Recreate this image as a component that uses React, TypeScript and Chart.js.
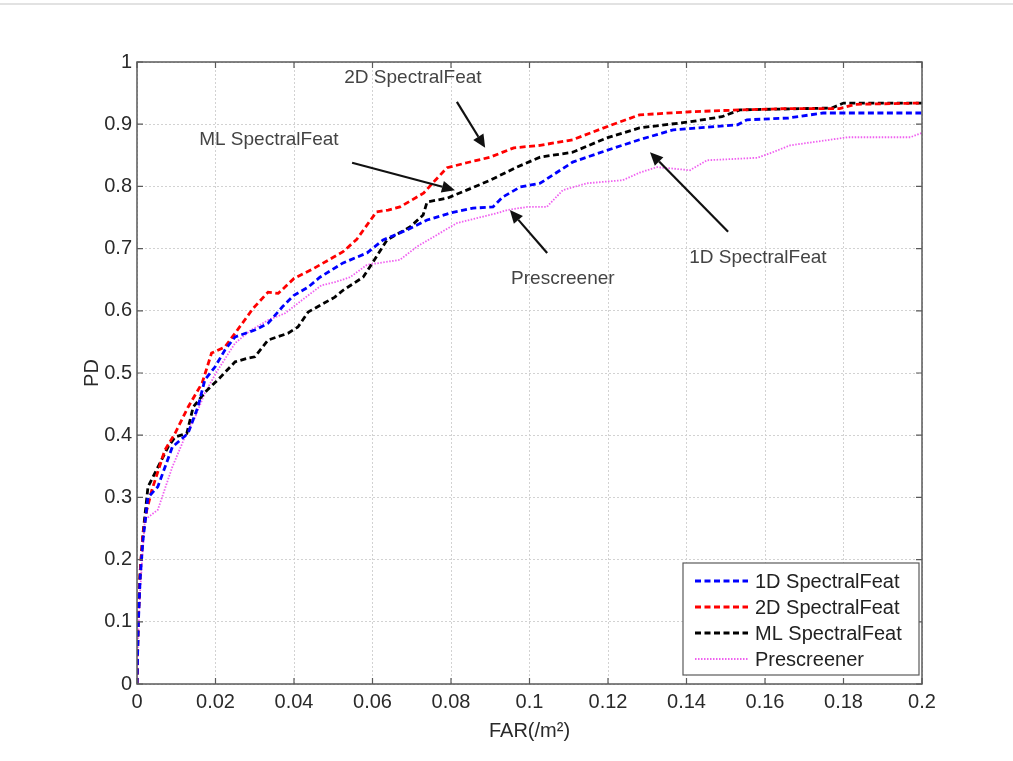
import { useEffect, useRef } from "react";
import { Chart, registerables } from "chart.js";

Chart.register(...registerables);

// ROC curves: false-alarm rate (per m^2) vs. probability of detection
const far1D = [0, 0.0003, 0.0008, 0.0015, 0.0028, 0.0053, 0.009, 0.013, 0.0155, 0.0173, 0.0199, 0.0224, 0.025, 0.03, 0.0334, 0.037, 0.04, 0.0436, 0.0466, 0.0525, 0.0586, 0.0627, 0.0688, 0.0739, 0.0797, 0.0856, 0.0907, 0.0932, 0.0976, 0.1027, 0.111, 0.1197, 0.128, 0.1366, 0.153, 0.1554, 0.166, 0.1748, 0.2];
const pd1D = [0, 0.09, 0.17, 0.23, 0.3, 0.317, 0.381, 0.403, 0.445, 0.489, 0.51, 0.537, 0.558, 0.569, 0.58, 0.606, 0.625, 0.638, 0.654, 0.677, 0.693, 0.714, 0.73, 0.746, 0.757, 0.765, 0.767, 0.783, 0.799, 0.805, 0.839, 0.858, 0.875, 0.891, 0.899, 0.907, 0.91, 0.918, 0.918];

const far2D = [0, 0.0003, 0.0008, 0.0015, 0.0025, 0.0038, 0.0071, 0.0097, 0.013, 0.0166, 0.019, 0.0224, 0.025, 0.0296, 0.0334, 0.036, 0.04, 0.045, 0.05, 0.0525, 0.056, 0.061, 0.064, 0.067, 0.073, 0.076, 0.079, 0.084, 0.09, 0.096, 0.1027, 0.111, 0.1197, 0.128, 0.141, 0.1536, 0.165, 0.179, 0.183, 0.2];
const pd2D = [0, 0.1, 0.18, 0.24, 0.28, 0.312, 0.376, 0.403, 0.445, 0.484, 0.532, 0.542, 0.564, 0.604, 0.63, 0.628, 0.652, 0.668, 0.686, 0.695, 0.715, 0.759, 0.762, 0.767, 0.789, 0.81, 0.83, 0.838, 0.847, 0.862, 0.866, 0.875, 0.896, 0.915, 0.92, 0.923, 0.925, 0.925, 0.932, 0.934];

const farML = [0, 0.0003, 0.0008, 0.0015, 0.0028, 0.0079, 0.0097, 0.0127, 0.0143, 0.0173, 0.0206, 0.025, 0.0283, 0.03, 0.0334, 0.0385, 0.041, 0.0436, 0.0504, 0.0525, 0.0576, 0.06, 0.0637, 0.0696, 0.0729, 0.0739, 0.079, 0.084, 0.09, 0.0968, 0.1027, 0.111, 0.1197, 0.128, 0.141, 0.149, 0.1536, 0.177, 0.18, 0.2];
const pdML = [0, 0.1, 0.18, 0.24, 0.317, 0.381, 0.397, 0.403, 0.445, 0.469, 0.489, 0.518, 0.524, 0.526, 0.553, 0.564, 0.574, 0.598, 0.622, 0.633, 0.654, 0.677, 0.714, 0.735, 0.754, 0.775, 0.781, 0.794, 0.81, 0.831, 0.847, 0.855, 0.878, 0.894, 0.904, 0.912, 0.923, 0.926, 0.934, 0.934];

const farPre = [0, 0.0003, 0.0008, 0.002, 0.0053, 0.009, 0.0122, 0.0148, 0.0173, 0.0206, 0.025, 0.029, 0.0334, 0.0377, 0.042, 0.047, 0.0504, 0.0543, 0.0586, 0.0619, 0.067, 0.0713, 0.0772, 0.0815, 0.0866, 0.0917, 0.0943, 0.0994, 0.1044, 0.1085, 0.1146, 0.1238, 0.128, 0.1325, 0.1409, 0.1452, 0.158, 0.162, 0.1664, 0.1766, 0.181, 0.197, 0.2];
const pdPre = [0, 0.08, 0.15, 0.264, 0.28, 0.349, 0.397, 0.429, 0.468, 0.505, 0.548, 0.569, 0.585, 0.596, 0.617, 0.641, 0.646, 0.654, 0.674, 0.677, 0.682, 0.703, 0.725, 0.741, 0.749, 0.757, 0.762, 0.767, 0.767, 0.794, 0.805, 0.81, 0.822, 0.831, 0.826, 0.842, 0.846, 0.855, 0.866, 0.875, 0.879, 0.879, 0.886];

const seriesNames = ["1D SpectralFeat", "2D SpectralFeat", "ML SpectralFeat", "Prescreener"];
const seriesColors = ["#0000ff", "#ff0000", "#000000", "#f060f0"];

// Callout labels: text, text anchor, arrow tail, arrow head (data units)
const calloutText = ["2D SpectralFeat", "ML SpectralFeat", "Prescreener", "1D SpectralFeat"];
const calloutTextAt = [[0.0703, 0.974], [0.0336, 0.875], [0.1085, 0.651], [0.1582, 0.685]];
const calloutTail = [[0.0815, 0.936], [0.0548, 0.838], [0.1045, 0.693], [0.1506, 0.727]];
const calloutHead = [[0.0887, 0.862], [0.081, 0.794], [0.095, 0.762], [0.1307, 0.855]];

const xTicks = [0, 0.02, 0.04, 0.06, 0.08, 0.1, 0.12, 0.14, 0.16, 0.18, 0.2];
const yTicks = [0, 0.1, 0.2, 0.3, 0.4, 0.5, 0.6, 0.7, 0.8, 0.9, 1];

const FONT = "'Liberation Sans', Arial, sans-serif";
const FRAME = "#5a5a5a";
const GRID = "#d2d2d2";

const zip = (xs: number[], ys: number[]) => xs.map((x, i) => ({ x, y: ys[i] }));

const frameAndExtras = {
  id: "frameAndExtras",
  afterDatasetsDraw(chart: any) {
    const { ctx, chartArea: a, scales } = chart;
    const xs = scales.x;
    const ys = scales.y;
    ctx.save();
    // axes box
    ctx.strokeStyle = FRAME;
    ctx.lineWidth = 1.5;
    ctx.setLineDash([]);
    ctx.strokeRect(a.left, a.top, a.right - a.left, a.bottom - a.top);
    // inward tick marks on all four sides
    ctx.lineWidth = 1.2;
    const tl = 6;
    ctx.beginPath();
    xTicks.forEach((v) => {
      const px = xs.getPixelForValue(v);
      ctx.moveTo(px, a.bottom);
      ctx.lineTo(px, a.bottom - tl);
      ctx.moveTo(px, a.top);
      ctx.lineTo(px, a.top + tl);
    });
    yTicks.forEach((v) => {
      const py = ys.getPixelForValue(v);
      ctx.moveTo(a.left, py);
      ctx.lineTo(a.left + tl, py);
      ctx.moveTo(a.right, py);
      ctx.lineTo(a.right - tl, py);
    });
    ctx.stroke();

    // legend box in the lower-right corner
    const lx = a.right - 239;
    const ly = a.bottom - 121;
    const lw = 236;
    const lh = 112;
    ctx.fillStyle = "#ffffff";
    ctx.fillRect(lx, ly, lw, lh);
    ctx.strokeStyle = FRAME;
    ctx.lineWidth = 1.2;
    ctx.strokeRect(lx, ly, lw, lh);
    ctx.font = `20px ${FONT}`;
    ctx.textBaseline = "middle";
    ctx.textAlign = "left";
    seriesNames.forEach((name, i) => {
      const ry = ly + 18 + i * 26;
      ctx.strokeStyle = seriesColors[i];
      if (i === 3) {
        ctx.lineWidth = 1.8;
        ctx.setLineDash([1.5, 1.5]);
      } else {
        ctx.lineWidth = 2.8;
        ctx.setLineDash([6, 3.5]);
      }
      ctx.beginPath();
      ctx.moveTo(lx + 12, ry);
      ctx.lineTo(lx + 65, ry);
      ctx.stroke();
      ctx.setLineDash([]);
      ctx.fillStyle = "#222222";
      ctx.fillText(name, lx + 72, ry + 1);
    });

    // callouts with arrows
    ctx.font = `19px ${FONT}`;
    ctx.textAlign = "center";
    calloutText.forEach((t, i) => {
      ctx.fillStyle = "#444444";
      const tx = xs.getPixelForValue(calloutTextAt[i][0]);
      const ty = ys.getPixelForValue(calloutTextAt[i][1]);
      ctx.fillText(t, tx, ty);
      const x0 = xs.getPixelForValue(calloutTail[i][0]);
      const y0 = ys.getPixelForValue(calloutTail[i][1]);
      const x1 = xs.getPixelForValue(calloutHead[i][0]);
      const y1 = ys.getPixelForValue(calloutHead[i][1]);
      const ang = Math.atan2(y1 - y0, x1 - x0);
      const hl = 13;
      const hw = 6;
      const bx = x1 - hl * Math.cos(ang);
      const by = y1 - hl * Math.sin(ang);
      ctx.strokeStyle = "#111111";
      ctx.lineWidth = 2.2;
      ctx.beginPath();
      ctx.moveTo(x0, y0);
      ctx.lineTo(bx, by);
      ctx.stroke();
      ctx.fillStyle = "#111111";
      ctx.beginPath();
      ctx.moveTo(x1, y1);
      ctx.lineTo(bx + hw * Math.sin(ang), by - hw * Math.cos(ang));
      ctx.lineTo(bx - hw * Math.sin(ang), by + hw * Math.cos(ang));
      ctx.closePath();
      ctx.fill();
    });
    ctx.restore();
  },
};

const tickLabel = (v: number | string) => String(Number(Number(v).toFixed(2)));

export default function App() {
  const canvasRef = useRef<HTMLCanvasElement | null>(null);

  useEffect(() => {
    const canvas = canvasRef.current;
    if (!canvas) return;
    const farLists = [far1D, far2D, farML, farPre];
    const pdLists = [pd1D, pd2D, pdML, pdPre];
    const chart = new Chart(canvas, {
      type: "line",
      data: {
        datasets: seriesNames.map((name, i) => ({
          label: name,
          data: zip(farLists[i], pdLists[i]),
          borderColor: seriesColors[i],
          backgroundColor: seriesColors[i],
          borderWidth: i === 3 ? 1.8 : 2.8,
          borderDash: i === 3 ? [1.5, 1.5] : [6, 3.5],
          pointRadius: 0,
          tension: 0,
          fill: false,
        })),
      },
      options: {
        animation: false,
        responsive: false,
        devicePixelRatio: 1,
        layout: { padding: { left: 0, top: 62, right: 91, bottom: 0 } },
        plugins: {
          legend: { display: false },
          tooltip: { enabled: false },
        },
        scales: {
          x: {
            type: "linear",
            min: 0,
            max: 0.2,
            afterFit: (s: any) => {
              s.height = 77;
            },
            afterBuildTicks: (s: any) => {
              s.ticks = xTicks.map((v) => ({ value: v }));
            },
            ticks: {
              callback: tickLabel,
              color: "#2a2a2a",
              font: { family: FONT, size: 20 },
              padding: 6,
              maxRotation: 0,
              autoSkip: false,
            },
            grid: { color: GRID, lineWidth: 1, drawTicks: false },
            border: { display: false, dash: [2, 2] },
            title: {
              display: true,
              text: "FAR(/m²)",
              color: "#2a2a2a",
              font: { family: FONT, size: 20 },
              padding: { top: 0, bottom: 18 },
            },
          },
          y: {
            type: "linear",
            min: 0,
            max: 1,
            afterFit: (s: any) => {
              s.width = 137;
            },
            afterBuildTicks: (s: any) => {
              s.ticks = yTicks.map((v) => ({ value: v }));
            },
            ticks: {
              callback: tickLabel,
              color: "#2a2a2a",
              font: { family: FONT, size: 20 },
              padding: 5,
              autoSkip: false,
            },
            grid: { color: GRID, lineWidth: 1, drawTicks: false },
            border: { display: false, dash: [2, 2] },
            title: {
              display: true,
              text: "PD",
              color: "#2a2a2a",
              font: { family: FONT, size: 20 },
              padding: { top: 80, bottom: 0 },
            },
          },
        },
      },
      plugins: [frameAndExtras],
    });
    return () => chart.destroy();
  }, []);

  return (
    <div
      style={{
        position: "fixed",
        left: 0,
        top: 0,
        width: 1013,
        height: 761,
        background: "#ffffff",
        overflow: "hidden",
      }}
    >
      <div
        style={{
          position: "absolute",
          left: 0,
          top: 3,
          width: 1013,
          height: 0,
          borderTop: "2px solid #e2e2e2",
        }}
      />
      <canvas
        ref={canvasRef}
        width={1013}
        height={761}
        style={{ position: "absolute", left: 0, top: 0, width: 1013, height: 761 }}
      />
    </div>
  );
}
